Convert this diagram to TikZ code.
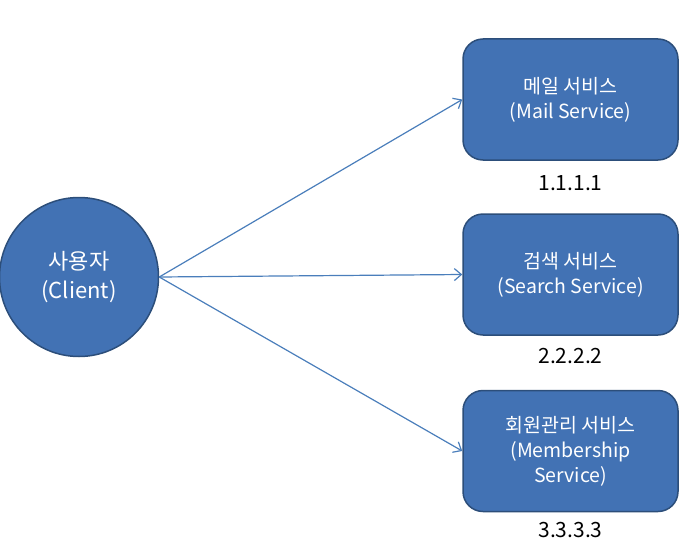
\documentclass[tikz,border=0pt]{standalone}
\usepackage{fontspec}
\setmainfont{Noto Sans CJK KR}
\usetikzlibrary{arrows.meta}
\definecolor{boxfill}{RGB}{66,114,180}
\definecolor{boxline}{RGB}{44,78,122}
\definecolor{arrowc}{RGB}{74,126,187}
\tikzset{
  svc/.style={draw=boxline, line width=1.5pt, fill=boxfill, rounded corners=20pt,
    minimum width=215pt, minimum height=121pt, text=white, align=center,
    font=\fontsize{19.5pt}{25pt}\selectfont, inner sep=0pt},
  client/.style={circle, draw=boxline, line width=1.5pt, fill=boxfill, minimum size=159pt,
    text=white, align=center, font=\fontsize{22pt}{29pt}\selectfont, inner sep=0pt},
  addr/.style={font=\fontsize{21pt}{24pt}\selectfont, text=black, inner sep=0pt},
  conn/.style={draw=arrowc, line width=1.2pt, -{Straight Barb[length=7pt,width=12pt]}}
}
\begin{document}
\begin{tikzpicture}[x=1pt,y=-1pt]
\useasboundingbox (0,0) rectangle (692,559);
\node[client] (c) at (79,277) {사용자\\(Client)};
\node[svc] (m) at (570.5,99.5) {메일 서비스\\(Mail Service)};
\node[svc] (s) at (570.5,274.5) {검색 서비스\\(Search Service)};
\node[svc] (r) at (570.5,451) {회원관리 서비스\\(Membership\\Service)};
\node[addr] (a1) at (570.5,183) {1.1.1.1};
\node[addr] (a2) at (570.5,356) {2.2.2.2};
\node[addr] (a3) at (570.5,530) {3.3.3.3};
\draw[conn] (c.east) -- (m.west);
\draw[conn] (c.east) -- (s.west);
\draw[conn] (c.east) -- (r.west);
\end{tikzpicture}
\end{document}
